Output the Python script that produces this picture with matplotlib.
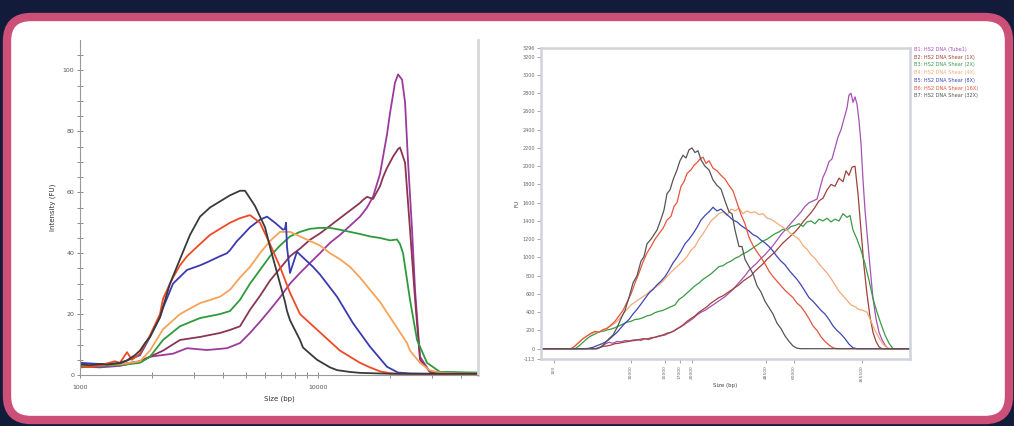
import numpy as np
import matplotlib
matplotlib.use('Agg')
import matplotlib.pyplot as plt
from matplotlib.patches import FancyBboxPatch
from matplotlib.transforms import IdentityTransform
from matplotlib.ticker import FixedLocator, FixedFormatter, NullFormatter

# ---- series names / colours ----
names = ["B1: HS2 DNA (Tube1)", "B2: HS2 DNA Shear (1X)", "B3: HS2 DNA Shear (2X)",
         "B4: HS2 DNA Shear (4X)", "B5: HS2 DNA Shear (8X)", "B6: HS2 DNA Shear (16X)",
         "B7: HS2 DNA Shear (32X)"]
left_colors = ['#9b3a9e', '#8b3552', '#2f9a3c', '#f5a35a', '#3b3bb0', '#ef4a25', '#3a3a3a']
right_colors = ['#a552b3', '#a0413a', '#3a9a44', '#f4aa78', '#3d46b0', '#e6553c', '#555555']

# ---- left trace (size bp, intensity FU) ----
l_b1_x = [1000, 1213, 1472, 1786, 1968, 2459, 2817, 3417, 4147, 4701, 5179, 5705, 6284, 6923,
          7626, 8400, 9253, 10193, 11228, 12369, 13625, 15009, 16070, 17020, 18213, 18760,
          19490, 20063, 20660, 21060, 21690, 22540, 23210, 23890, 24830, 25560, 26820, 29543, 47000]
l_b1_y = [2.8, 2.5, 3.0, 4.5, 6.0, 7.0, 8.8, 8.2, 8.8, 10.5, 13.8, 17.5, 21.4, 25.5,
          30, 33.5, 36.8, 40, 43.4, 46, 49, 52, 55, 58.5, 66, 71.7,
          79, 86, 92, 96, 98.7, 97, 89.5, 70, 47.7, 28, 6, 1, 0.5]

l_b2_x = [1000, 1213, 1472, 1786, 1968, 2232, 2630, 3193, 3874, 4268, 4701, 5179, 5705, 6284,
          6923, 7626, 8400, 9253, 10193, 11228, 12369, 13625, 15009, 15460, 16070, 17020,
          18213, 18760, 19490, 20660, 21690, 22101, 23210, 24350, 25560, 26820, 29543, 47000]
l_b2_y = [3.0, 3.2, 3.5, 4.5, 6.0, 8.0, 11.5, 12.5, 13.8, 14.8, 16, 21.4, 26, 31,
          35, 39, 41.5, 44.4, 46.5, 49, 51.5, 54, 56.5, 57.5, 58.5, 57.8,
          62, 65, 68, 71.7, 74.2, 74.7, 69.7, 47.7, 25, 5, 1, 0.5]

l_b3_x = [1000, 1213, 1472, 1786, 1968, 2232, 2630, 3193, 3874, 4268, 4701, 5179, 5705, 6284,
          6923, 7626, 8400, 9253, 10193, 11228, 12369, 13625, 15009, 16534, 18213, 20063,
          21470, 22101, 22760, 24346, 26060, 28710, 32544, 47000]
l_b3_y = [2.5, 3.0, 3.2, 4.0, 6.0, 11.5, 16, 18.7, 20, 21, 24.7, 30, 34.5, 39,
          42.5, 45.5, 47, 48, 48.3, 48.3, 47.7, 47, 46.3, 45.5, 45, 44.2,
          44.5, 43, 40, 24.7, 11.5, 4, 1, 0.8]

l_b4_x = [1000, 1213, 1472, 1786, 1968, 2232, 2630, 3193, 3874, 4268, 4701, 5179, 5705, 6284,
          6923, 7626, 8400, 9253, 10193, 11228, 12369, 13625, 15009, 16534, 18213, 20063,
          22101, 23660, 24346, 26819, 29543, 32544, 39491, 47000]
l_b4_y = [3.0, 3.3, 3.5, 4.5, 8, 15, 20, 23.6, 25.7, 28, 32, 35.5, 40, 44,
          47, 47, 45.5, 44, 42.5, 40, 38, 35.5, 32, 28, 24, 19,
          14, 10.5, 8, 4, 1.5, 0.8, 0.5, 0.5]

l_b5_x = [1000, 1213, 1472, 1786, 1968, 2168, 2232, 2459, 2817, 3193, 3417, 3874, 4147, 4268,
          4567, 4701, 5179, 5705, 6107, 6597, 7128, 7267, 7338, 7409, 7626, 8159, 8400, 9529,
          10193, 12020, 14030, 16534, 19490, 21690, 24346, 30000, 47000]
l_b5_y = [4.0, 3.6, 3.8, 6.5, 12.5, 19, 22, 30, 34.5, 36, 37, 39, 40, 41,
          44, 45, 48.5, 51, 52, 50, 47.7, 48, 50, 42, 33.5, 40.5, 39.5, 35.5,
          33, 25.7, 17, 9.3, 2.7, 0.8, 0.5, 0.4, 0.4]

l_b6_x = [1000, 1100, 1213, 1300, 1400, 1472, 1576, 1650, 1786, 1968, 2168, 2232, 2388, 2459,
          2630, 2817, 3193, 3517, 3874, 4268, 4701, 5179, 5705, 6284, 6923, 7626, 8400, 9253,
          10193, 11228, 12369, 13625, 15009, 16534, 18213, 20063, 22101, 30000, 47000]
l_b6_y = [3.0, 2.6, 3.2, 3.8, 4.5, 4.0, 7.5, 5.0, 7, 13, 20, 25, 30, 32,
          36, 39, 43, 46, 48, 50, 51.5, 52.5, 50, 43, 35.5, 27, 20, 17,
          14, 11, 8, 6, 4, 2.5, 1.2, 0.6, 0.4, 0.3, 0.3]

l_b7_x = [1000, 1100, 1213, 1300, 1472, 1576, 1700, 1786, 1876, 1968, 2168, 2388, 2630, 2898,
          3193, 3517, 3874, 4268, 4701, 4935, 5179, 5436, 5705, 5990, 6284, 6597, 6923, 7267,
          7409, 7626, 7852, 8400, 8650, 9253, 9904, 11228, 12020, 13625, 15009, 20063, 47000]
l_b7_y = [3.5, 3.2, 3.6, 3.4, 4.0, 4.8, 6.5, 8.0, 10.5, 12.5, 19, 30, 38, 46,
          52, 55, 57, 59, 60.5, 60.5, 58, 55.5, 52, 48.5, 42, 36, 30, 24,
          21, 18, 16, 11.5, 9, 7, 5, 2.5, 1.6, 1.0, 0.7, 0.4, 0.4]

left_x = [l_b1_x, l_b2_x, l_b3_x, l_b4_x, l_b5_x, l_b6_x, l_b7_x]
left_y = [l_b1_y, l_b2_y, l_b3_y, l_b4_y, l_b5_y, l_b6_y, l_b7_y]

# ---- right trace (migration position, FU) ----
r_b1 = [(0, 0), (56, 0), (60, 20), (64, 50), (68, 70), (72, 60), (76, 80), (80, 75), (84, 90),
        (88, 85), (92, 95), (96, 100), (100, 90), (104, 110), (108, 100), (112, 120), (116, 130),
        (120, 140), (124, 150), (128, 170), (132, 190), (136, 220), (140, 240), (144, 270),
        (148, 300), (152, 330), (156, 370), (160, 400), (164, 420), (168, 450), (172, 480),
        (176, 510), (180, 540), (184, 570), (188, 610), (192, 650), (196, 700), (200, 750),
        (204, 800), (208, 860), (212, 900), (216, 940), (220, 990), (224, 1030), (228, 1080),
        (232, 1130), (236, 1190), (240, 1250), (244, 1300), (248, 1350), (252, 1400),
        (256, 1450), (260, 1500), (264, 1560), (268, 1600), (272, 1620), (276, 1640),
        (279, 1760), (282, 1880), (285, 1950), (288, 2050), (291, 2080), (294, 2200),
        (297, 2320), (300, 2400), (303, 2520), (306, 2640), (308, 2780), (310, 2800),
        (312, 2700), (314, 2760), (316, 2680), (318, 2500), (320, 2250), (322, 1850),
        (324, 1520), (326, 1270), (329, 900), (332, 550), (335, 330), (338, 180), (341, 100),
        (344, 40), (347, 0), (369, 0)]
r_b2 = [(0, 0), (54, 0), (58, 10), (62, 25), (66, 30), (70, 40), (74, 55), (78, 60), (82, 70),
        (86, 76), (90, 85), (94, 90), (98, 100), (102, 110), (106, 105), (110, 120), (114, 125),
        (118, 140), (122, 150), (126, 170), (130, 180), (134, 200), (138, 230), (142, 260),
        (146, 300), (150, 330), (154, 360), (158, 400), (162, 430), (166, 460), (170, 500),
        (174, 530), (178, 560), (182, 580), (186, 610), (190, 640), (194, 670), (198, 700),
        (202, 740), (206, 770), (210, 800), (214, 850), (218, 890), (222, 930), (226, 980),
        (230, 1020), (234, 1060), (238, 1110), (242, 1160), (246, 1200), (250, 1240),
        (254, 1280), (258, 1330), (262, 1390), (266, 1440), (270, 1490), (274, 1550),
        (278, 1620), (282, 1650), (286, 1740), (290, 1800), (294, 1780), (298, 1870),
        (302, 1830), (305, 1950), (308, 1900), (311, 1990), (314, 2000), (317, 1700),
        (320, 1300), (323, 900), (326, 600), (329, 350), (332, 180), (335, 80), (338, 20),
        (341, 0), (369, 0)]
r_b3 = [(0, 0), (34, 0), (38, 30), (42, 70), (46, 110), (50, 140), (54, 160), (58, 185),
        (62, 190), (66, 205), (70, 215), (74, 230), (78, 250), (82, 270), (86, 290), (90, 300),
        (94, 320), (98, 325), (102, 340), (106, 360), (110, 370), (114, 395), (118, 410),
        (122, 420), (126, 440), (130, 460), (134, 480), (138, 540), (142, 570), (146, 610),
        (150, 650), (154, 690), (158, 720), (162, 760), (166, 790), (170, 820), (174, 860),
        (178, 900), (182, 910), (186, 940), (190, 960), (194, 990), (198, 1010), (202, 1040),
        (206, 1060), (210, 1090), (214, 1120), (218, 1150), (222, 1180), (226, 1200),
        (230, 1230), (234, 1260), (238, 1280), (242, 1310), (246, 1300), (250, 1340),
        (254, 1350), (258, 1370), (262, 1340), (266, 1390), (270, 1400), (274, 1370),
        (278, 1420), (282, 1400), (286, 1430), (290, 1390), (294, 1420), (298, 1400),
        (302, 1480), (306, 1440), (309, 1460), (312, 1300), (316, 1200), (320, 1080),
        (324, 930), (328, 750), (332, 550), (336, 400), (340, 270), (344, 150), (348, 60),
        (352, 0), (369, 0)]
r_b4 = [(0, 0), (30, 0), (34, 30), (38, 70), (42, 110), (46, 140), (50, 160), (54, 180),
        (58, 185), (62, 200), (66, 230), (70, 250), (74, 280), (78, 320), (82, 380), (86, 430),
        (90, 480), (94, 510), (98, 540), (102, 570), (106, 600), (110, 640), (114, 670),
        (118, 700), (122, 740), (126, 790), (130, 840), (134, 880), (138, 920), (142, 960),
        (146, 1010), (150, 1080), (154, 1120), (158, 1200), (162, 1260), (166, 1330),
        (170, 1400), (174, 1440), (178, 1480), (182, 1500), (186, 1460), (190, 1530),
        (194, 1510), (198, 1540), (202, 1480), (206, 1510), (210, 1490), (214, 1500),
        (218, 1470), (222, 1480), (226, 1430), (230, 1420), (234, 1390), (238, 1360),
        (242, 1330), (246, 1300), (250, 1260), (254, 1230), (258, 1200), (262, 1130),
        (266, 1090), (270, 1030), (274, 990), (278, 930), (282, 880), (286, 830), (290, 770),
        (294, 700), (298, 630), (302, 580), (306, 530), (310, 480), (314, 460), (318, 430),
        (322, 420), (326, 400), (330, 300), (334, 200), (338, 120), (342, 50), (346, 10),
        (350, 0), (369, 0)]
r_b5 = [(0, 0), (44, 0), (48, 5), (52, 15), (56, 33), (60, 50), (64, 70), (68, 100), (72, 140),
        (76, 180), (80, 230), (84, 280), (88, 320), (92, 380), (96, 430), (100, 490),
        (104, 550), (108, 610), (112, 650), (116, 700), (120, 740), (124, 790), (128, 860),
        (132, 940), (136, 1000), (140, 1070), (144, 1150), (148, 1200), (152, 1260),
        (156, 1330), (160, 1410), (164, 1460), (168, 1500), (172, 1550), (176, 1510),
        (180, 1530), (184, 1490), (188, 1450), (192, 1410), (196, 1390), (200, 1350),
        (204, 1320), (208, 1290), (212, 1250), (216, 1230), (220, 1190), (224, 1160),
        (228, 1120), (232, 1070), (236, 1010), (240, 960), (244, 920), (248, 860), (252, 810),
        (256, 760), (260, 700), (264, 630), (268, 560), (272, 520), (276, 470), (280, 420),
        (284, 380), (288, 320), (292, 250), (296, 200), (300, 160), (304, 110), (308, 50),
        (312, 10), (316, 0), (369, 0)]
r_b6 = [(0, 0), (30, 0), (33, 20), (37, 60), (42, 110), (46, 140), (50, 170), (54, 190),
        (58, 180), (62, 210), (66, 220), (70, 260), (74, 300), (78, 360), (82, 420), (86, 510),
        (90, 600), (94, 720), (98, 830), (102, 950), (106, 1050), (110, 1120), (114, 1200),
        (118, 1260), (122, 1320), (126, 1410), (130, 1450), (133, 1560), (136, 1600),
        (140, 1780), (143, 1830), (146, 1920), (150, 1960), (153, 2010), (156, 2040),
        (159, 2080), (162, 2100), (165, 2030), (168, 2060), (172, 1980), (176, 1950),
        (180, 1900), (184, 1860), (188, 1790), (192, 1730), (196, 1600), (200, 1470),
        (204, 1370), (208, 1220), (212, 1130), (216, 1060), (220, 1000), (224, 930), (228, 850),
        (232, 790), (236, 740), (240, 690), (244, 640), (248, 600), (252, 560), (256, 500),
        (260, 460), (264, 400), (268, 330), (272, 250), (276, 200), (280, 130), (284, 80),
        (288, 40), (292, 10), (296, 0), (369, 0)]
r_b7 = [(0, 0), (56, 0), (60, 20), (64, 60), (68, 110), (72, 150), (76, 230), (80, 330),
        (84, 420), (88, 560), (92, 720), (96, 800), (100, 960), (103, 1010), (106, 1150),
        (110, 1200), (113, 1250), (116, 1300), (120, 1420), (123, 1520), (126, 1700),
        (129, 1740), (132, 1850), (136, 1960), (139, 2060), (142, 2120), (145, 2090),
        (148, 2180), (151, 2200), (154, 2150), (157, 2170), (160, 2070), (164, 2000),
        (168, 1960), (172, 1850), (176, 1790), (180, 1750), (184, 1620), (188, 1500),
        (191, 1480), (194, 1300), (198, 1120), (201, 1120), (204, 980), (208, 900), (212, 820),
        (216, 690), (220, 620), (224, 520), (228, 450), (232, 380), (236, 280), (240, 220),
        (244, 140), (248, 80), (252, 30), (256, 5), (260, 0), (369, 0)]
right_series = [r_b1, r_b2, r_b3, r_b4, r_b5, r_b6, r_b7]

ladder_pos = [13, 90, 124, 139, 151, 225, 253, 321]
ladder_lbl = ["100", "10000", "15000", "17000", "20000", "48500", "60000", "165500"]
r_yticks = [-113, 0, 200, 400, 600, 800, 1000, 1200, 1400, 1600, 1800, 2000, 2200,
            2400, 2600, 2800, 3000, 3200, 3296]

W, H = 1014, 426
fig = plt.figure(figsize=(W / 100, H / 100), dpi=100)
fig.patch.set_facecolor('#121b3a')

# card with pink border (behind the axes)
card = FancyBboxPatch((7, 6), 1002, 403, boxstyle="round,pad=0,rounding_size=24",
                      transform=IdentityTransform(), facecolor='white',
                      edgecolor='#cc4f78', linewidth=6, zorder=-10)
fig.patches.append(card)


def px_axes(x0, y_top, x1, y_bot):
    a = fig.add_axes([x0 / W, (H - y_bot) / H, (x1 - x0) / W, (y_bot - y_top) / H])
    a.set_zorder(5)
    return a


# ---- left chart ----
ax = px_axes(80, 40, 478, 375)
ax.set_facecolor('none')
for xs, ys, c in zip(left_x, left_y, left_colors):
    ax.plot(xs, ys, color=c, lw=1.3)
ax.set_xscale('log')
ax.set_xlim(1000, 47000)
ax.set_ylim(0, 110)
ax.spines['top'].set_visible(False)
for s in ['left', 'bottom']:
    ax.spines[s].set_color('#9a9a9a')
    ax.spines[s].set_linewidth(0.8)
ax.spines['right'].set_color('#d8d8d8')
ax.spines['right'].set_linewidth(2)
ax.set_yticks([0, 20, 40, 60, 80, 100])
ax.set_yticks(np.arange(5, 110, 5), minor=True)
ax.xaxis.set_major_locator(FixedLocator([1000, 10000]))
ax.xaxis.set_major_formatter(FixedFormatter(["1000", "10000"]))
ax.xaxis.set_minor_formatter(NullFormatter())
ax.tick_params(which='both', direction='inout', length=4, width=0.6, color='#777777',
               labelsize=4.5, labelcolor='#555555', pad=2)
ax.tick_params(axis='x', which='major', pad=5)
ax.set_xlabel('Size (bp)', fontsize=5, color='#333333', labelpad=4)
ax.set_ylabel('Intensity (FU)', fontsize=5, color='#333333', labelpad=5)

# ---- right chart ----
ax2 = px_axes(541, 48, 910, 359)
ax2.set_facecolor('none')
for pts, c, n in zip(right_series, right_colors, names):
    xs = [p[0] for p in pts]
    ys = [p[1] for p in pts]
    ax2.plot(xs, ys, color=c, lw=0.9, label=n)
ax2.set_xlim(0, 369)
ax2.set_ylim(-113, 3296)
for s in ax2.spines.values():
    s.set_color('#cfd3da')
    s.set_linewidth(1.8)
ax2.set_yticks(r_yticks)
ax2.set_yticklabels([str(v) for v in r_yticks])
ax2.set_xticks(ladder_pos)
ax2.set_xticklabels(ladder_lbl, rotation=90)
ax2.tick_params(axis='y', length=3, width=0.6, color='#999999', labelsize=3.5,
                labelcolor='#666666', pad=1.5)
ax2.tick_params(axis='x', length=3, width=0.6, color='#999999', labelsize=3.2,
                labelcolor='#666666', pad=1.5)
ax2.set_xlabel('Size (bp)', fontsize=4, color='#444444', labelpad=1)
ax2.set_ylabel('FU', fontsize=4, color='#444444', labelpad=2)
leg = ax2.legend(loc='upper left', bbox_to_anchor=(1.005, 1.01), frameon=False,
                 fontsize=3.6, handlelength=0, handletextpad=0, labelspacing=0.55,
                 labelcolor='linecolor', borderaxespad=0)
for h in leg.legend_handles:
    h.set_visible(False)

fig.savefig('out.png', dpi=100, facecolor=fig.get_facecolor())
